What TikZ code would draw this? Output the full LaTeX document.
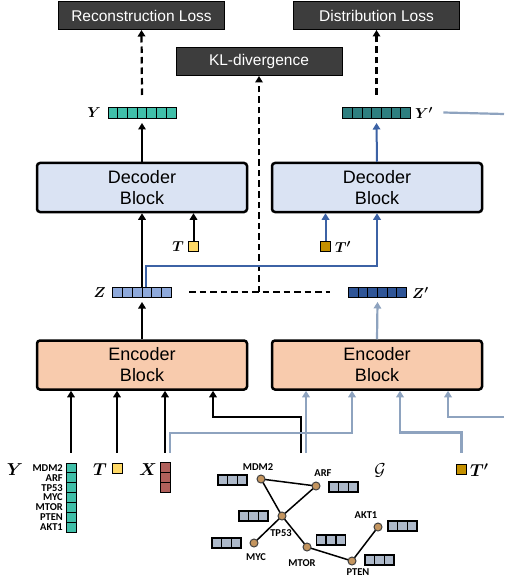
\documentclass[tikz,border=0pt]{standalone}
\usepackage{fontspec}
\setmainfont{Liberation Sans}
\newfontfamily\genefont{Carlito}
\usepackage{bm}
\usetikzlibrary{arrows.meta,calc}
\definecolor{ycol}{HTML}{40BFA9}
\definecolor{ypcol}{HTML}{2E7F80}
\definecolor{zcol}{HTML}{8EA9DB}
\definecolor{zpcol}{HTML}{2F5597}
\definecolor{xcol}{HTML}{B0605B}
\definecolor{tcol}{HTML}{FFD966}
\definecolor{tpcol}{HTML}{C49000}
\definecolor{fcol}{HTML}{ADB9CA}
\definecolor{gncol}{HTML}{C4955F}
\definecolor{deccol}{HTML}{DAE3F3}
\definecolor{enccol}{HTML}{F8CBAD}
\definecolor{losscol}{HTML}{3D3D3D}
\definecolor{graycol}{HTML}{8EA3BF}
\definecolor{bluecol}{HTML}{3C62A5}
\tikzset{
  cellbox/.style={draw=black,line width=0.9pt,inner sep=0pt,outer sep=0pt},
  blockbox/.style={draw=black,line width=2.5pt,rounded corners=3pt,minimum width=210pt,minimum height=49pt,align=center,font=\fontsize{18}{21}\selectfont,inner sep=0pt},
  lossbox/.style={draw=black,line width=1pt,fill=losscol,text=white,minimum width=166pt,minimum height=28pt,font=\fontsize{15.5}{18}\selectfont,inner sep=0pt},
  sqbox/.style={draw=black,line width=1pt,minimum size=10pt,inner sep=0pt},
  tip/.style={-{Triangle[width=7.5pt,length=6.5pt]}},
  blackarrow/.style={tip,line width=2pt,draw=black},
  bluearrow/.style={tip,line width=2pt,draw=bluecol},
  grayarrow/.style={tip,line width=2.2pt,draw=graycol},
  grayline/.style={line width=2.2pt,draw=graycol},
  dashline/.style={line width=2.2pt,dash pattern=on 6.5pt off 4pt},
  dasharrow/.style={dashline,tip},
  gnode/.style={circle,draw=black!75,fill=gncol,line width=1pt,minimum size=8pt,inner sep=0pt},
  gedge/.style={line width=1.5pt},
  genelabel/.style={font=\genefont\bfseries\fontsize{10.5}{11}\selectfont,inner sep=0pt},
  varlabel/.style={inner sep=0pt,font=\fontsize{15}{16}\selectfont},
  biglabel/.style={inner sep=0pt,font=\fontsize{17}{18}\selectfont},
}
\newcommand\hcells[8][]{%
  \node[cellbox,fill=#8,minimum width={#5*#6},minimum height=#7,#1] (#2) at (#3,#4) {};
  \pgfmathtruncatemacro\cellsn{#5-1}%
  \foreach \k in {1,...,\cellsn} \draw[cellbox,#1] ($(#2.north west)+(\k*#6,0)$) -- ($(#2.south west)+(\k*#6,0)$);
}
\newcommand\vcells[8][]{%
  \node[cellbox,fill=#8,minimum width=#6,minimum height={#5*#7},#1] (#2) at (#3,#4) {};
  \pgfmathtruncatemacro\cellsn{#5-1}%
  \foreach \k in {1,...,\cellsn} \draw[cellbox,#1] ($(#2.north west)+(0,\k*#7)$) -- ($(#2.north east)+(0,\k*#7)$);
}
\begin{document}
\begin{tikzpicture}[x=1pt,y=-1pt]
\useasboundingbox (0,0) rectangle (504,577);

% loss boxes
\node[lossbox] (rl) at (141.5,15.5) {Reconstruction Loss};
\node[lossbox] (dl) at (376.5,15.5) {Distribution Loss};
\node[lossbox] (kl) at (259,61.5) {KL-divergence};

% output vectors
\hcells{Yv}{142}{112.5}{7}{9.7}{11}{ycol}
\hcells{Ypv}{376.5}{112.5}{7}{9.7}{11}{ypcol}
\node[varlabel,anchor=east] (Ylab) at (101,113) {$\bm{Y}$};
\node[varlabel,anchor=west] (Yplab) at (415,113) {$\bm{Y'}$};

% blocks
\node[blockbox,fill=deccol] (decL) at (142,187.5) {Decoder\\Block};
\node[blockbox,fill=deccol] (decR) at (377,187.5) {Decoder\\Block};
\node[blockbox,fill=enccol] (encL) at (142,365) {Encoder\\Block};
\node[blockbox,fill=enccol] (encR) at (377,365) {Encoder\\Block};

% latent vectors
\hcells{Zv}{142}{292}{6}{9.7}{10}{zcol}
\hcells{Zpv}{377.5}{292}{6}{9.7}{10}{zpcol}
\node[varlabel,anchor=east] (Zlab) at (106,293) {$\bm{Z}$};
\node[varlabel,anchor=west] (Zplab) at (412,293) {$\bm{Z'}$};

% T inputs of decoders
\node[sqbox,fill=tcol] (Tsq) at (193.5,246) {};
\node[varlabel,anchor=east] (Tlab) at (184,247) {$\bm{T}$};
\node[sqbox,fill=tpcol] (Tpsq) at (325.5,246) {};
\node[varlabel,anchor=west] (Tplab) at (335,247) {$\bm{T'}$};

% loss connections
\draw[dasharrow] ([yshift=12pt]Yv.north) -- (rl.south);
\draw[dasharrow] ([yshift=12pt]Ypv.north) -- (dl.south);
\coordinate (kz) at (259,292);
\coordinate (dzl) at (189,292);
\coordinate (dzr) at (330,292);
\draw[dashline] (dzl) -- (dzr);
\draw[dasharrow] (kz) -- (kl.south);

% decoder connections
\draw[blackarrow] (decL.north) -- ([yshift=-5pt]Yv.south);
\draw[bluearrow] (decR.north) -- ([yshift=-5pt]Ypv.south);
\draw[blackarrow] (Zv.north) -- (decL.south);
\draw[blackarrow] (Tsq.north) -- (Tsq.north |- decL.south);
\draw[bluearrow] (Tpsq.north) -- (Tpsq.north |- decR.south);
\draw[bluearrow] ([xshift=4pt]Zv.north) -- ++(0,-21) -| (decR.south);
\coordinate (ypend) at (504,114);
\draw[grayline] ([xshift=33pt]Ypv.east) -- (ypend);

% encoder to latent
\draw[blackarrow] (encL.north) -- ([yshift=-5pt]Zv.south);
\draw[grayarrow] (encR.north) -- ([yshift=-5pt]Zpv.south);

% bottom inputs
\vcells{Yc}{71}{497.5}{7}{10}{9.86}{ycol}
\node[biglabel] (Yblab) at (15,470) {$\bm{Y}$};
\foreach \g/\i in {MDM2/1,ARF/2,TP53/3,MYC/4,MTOR/5,PTEN/6,AKT1/7}
  \node[genelabel,anchor=east] (lab\g) at ($(Yc.north west)+(-3,{9.86*(\i-0.5)})$) {\g};
\node[sqbox,fill=tcol] (Tb) at (117,468) {};
\node[biglabel,anchor=east] (Tblab) at (107,470) {$\bm{T}$};
\vcells{Xc}{165}{477.5}{3}{10}{9.8}{xcol}
\node[biglabel,anchor=east] (Xblab) at (157,470) {$\bm{X}$};
\node[biglabel] (Gblab) at (380,470) {$\mathcal{G}$};
\node[sqbox,fill=tpcol] (Tpb) at (461.5,469) {};
\node[biglabel,anchor=west] (Tpblab) at (470,470) {$\bm{T'}$};

\draw[blackarrow] ([yshift=10pt]Yc.north) -- (Yc.north |- encL.south);
\draw[blackarrow] ([yshift=10pt]Tb.north) -- (Tb.north |- encL.south);
\draw[blackarrow] ([yshift=10pt]Xc.north) -- (Xc.north |- encL.south);
\coordinate (gA) at (301,453);
\coordinate (gB) at (306,453);
\draw[blackarrow] (gA) -- ++(0,-36) -| ([xshift=71pt]encL.south);
\draw[grayarrow] (gB) -- ([xshift=-71pt]encR.south);
\draw[grayarrow] ([xshift=5pt,yshift=10pt]Xc.north) -- ++(0,-20) -| ([xshift=-25pt]encR.south);
\draw[grayarrow] ([yshift=11pt]Tpb.north) -- ++(0,-20) -| ([xshift=23pt]encR.south);
\coordinate (ypin) at (504,417);
\draw[grayarrow] (ypin) -| ([xshift=71pt]encR.south);

% graph
\coordinate (mdm2) at (261,479);
\coordinate (arf) at (316,486);
\coordinate (tp53) at (282,516);
\coordinate (myc) at (254,543);
\coordinate (mtor) at (307,547);
\coordinate (pten) at (352,561);
\coordinate (akt1) at (378,527);
\draw[gedge] (mdm2) -- (arf);
\draw[gedge] (mdm2) -- (tp53);
\draw[gedge] (arf) -- (tp53);
\draw[gedge] (tp53) -- (myc);
\draw[gedge] (tp53) -- (mtor);
\draw[gedge] (mtor) -- (pten);
\draw[gedge] (pten) -- (akt1);
\node[gnode] (n1) at (mdm2) {};
\node[gnode] (n2) at (arf) {};
\node[gnode] (n3) at (tp53) {};
\node[gnode] (n4) at (myc) {};
\node[gnode] (n5) at (mtor) {};
\node[gnode] (n6) at (pten) {};
\node[gnode] (n7) at (akt1) {};
\node[genelabel] (gl1) at (258,467) {MDM2};
\node[genelabel] (gl2) at (323,473) {ARF};
\node[genelabel] (gl3) at (281,533) {TP53};
\node[genelabel] (gl4) at (256,557) {MYC};
\node[genelabel] (gl5) at (302,563) {MTOR};
\node[genelabel] (gl6) at (358,572) {PTEN};
\node[genelabel] (gl7) at (366,515) {AKT1};
\hcells[line width=1.6pt]{fv1}{232.5}{480}{3}{9.7}{10}{fcol}
\hcells[line width=1.6pt]{fv2}{343.5}{487}{3}{9.7}{10}{fcol}
\hcells[line width=1.6pt]{fv3}{253.5}{516}{3}{9.7}{10}{fcol}
\hcells[line width=1.6pt]{fv4}{226.5}{543}{3}{9.7}{10}{fcol}
\hcells[line width=1.6pt]{fv5}{331}{540}{3}{9.7}{10}{fcol}
\hcells[line width=1.6pt]{fv6}{402.5}{526}{3}{9.7}{10}{fcol}
\hcells[line width=1.6pt]{fv7}{379.5}{560}{3}{9.7}{10}{fcol}
\end{tikzpicture}
\end{document}
